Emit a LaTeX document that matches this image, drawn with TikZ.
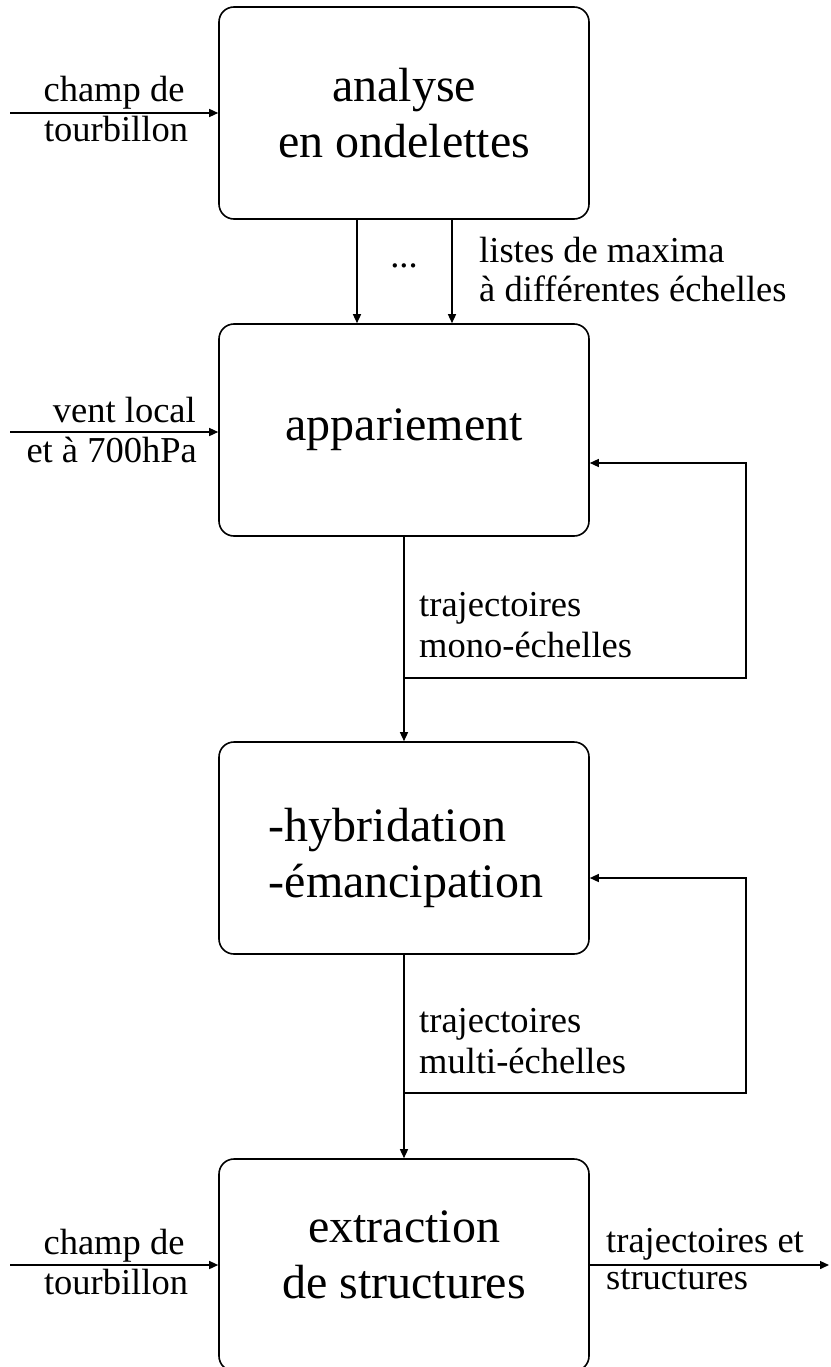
\documentclass[tikz,border=0pt]{standalone}
\usepackage{fontspec}
\setmainfont{Liberation Serif}
\usetikzlibrary{arrows.meta}
\begin{document}
\begin{tikzpicture}[x=1pt,y=-1pt,
  box/.style={draw, line width=1.6pt, rounded corners=15pt, minimum width=370pt, minimum height=212pt, inner sep=0pt},
  big/.style={inner sep=0pt, font=\fontsize{48}{56}\selectfont, align=center},
  lbl/.style={inner sep=0pt, font=\fontsize{36.5}{40}\selectfont},
  arr/.style={line width=1.4pt, -{Triangle[length=9pt,width=8pt]}}]
\useasboundingbox (0,0) rectangle (830,1367);
% boxes
\node[box] (b1) at (404,113) {};
\node[big] (b1t) at (404,113) {analyse\\en ondelettes};
\node[box] (b2) at (404,430) {};
\node[big] (b2t) at (404,430) {appariement};
\node[box] (b3) at (404,848) {};
\node[big, align=left] (b3t) at (406,858) {-hybridation\\-émancipation};
\node[box] (b4) at (404,1265) {};
\node[big] (b4t) at (404,1255) {extraction\\de structures};
% box1 -> box2
\coordinate (xa) at (357,0);
\coordinate (xb) at (452,0);
\draw[arr] (xa |- b1.south) -- (xa |- b2.north);
\draw[arr] (xb |- b1.south) -- (xb |- b2.north);
\node[lbl] (dots) at (404,266) {...};
\node[lbl, anchor=base west] (m1) at (479,262) {listes de maxima};
\node[lbl, anchor=base west] (m2) at (479,301) {à différentes échelles};
% input box1
\coordinate (in1) at (10,113);
\draw[arr] (in1) -- (in1 -| b1.west);
\node[lbl, anchor=base] (c1a) at (114,102) {champ de};
\node[lbl, anchor=base] (c1b) at (116,142) {tourbillon};
% input box2
\coordinate (in2) at (10,432);
\draw[arr] (in2) -- (in2 -| b2.west);
\node[lbl, anchor=base east] (v1) at (196,422) {vent local};
\node[lbl, anchor=base east] (v2) at (197,462) {et à 700hPa};
% box2 -> box3 with loop
\draw[arr] (b2) -- (b3);
\coordinate (j1) at (404,678);
\coordinate (r1) at (746,678);
\coordinate (e1) at (746,463);
\draw[arr] (j1) -- (r1) -- (e1) -- (e1 -| b2.east);
\node[lbl, anchor=base west] (t1a) at (419,616) {trajectoires};
\node[lbl, anchor=base west] (t1b) at (419,657) {mono-échelles};
% box3 -> box4 with loop
\draw[arr] (b3) -- (b4);
\coordinate (j2) at (404,1093);
\coordinate (r2) at (746,1093);
\coordinate (e2) at (746,878);
\draw[arr] (j2) -- (r2) -- (e2) -- (e2 -| b3.east);
\node[lbl, anchor=base west] (t2a) at (419,1032) {trajectoires};
\node[lbl, anchor=base west] (t2b) at (419,1073) {multi-échelles};
% input box4
\coordinate (in4) at (10,1265);
\draw[arr] (in4) -- (in4 -| b4.west);
\node[lbl, anchor=base] (c4a) at (114,1254) {champ de};
\node[lbl, anchor=base] (c4b) at (116,1294) {tourbillon};
% output box4
\coordinate (out) at (829,1265);
\draw[arr] (out -| b4.east) -- (out);
\node[lbl, anchor=base west] (o1) at (606,1252) {trajectoires et};
\node[lbl, anchor=base west] (o2) at (606,1289) {structures};
\end{tikzpicture}
\end{document}
